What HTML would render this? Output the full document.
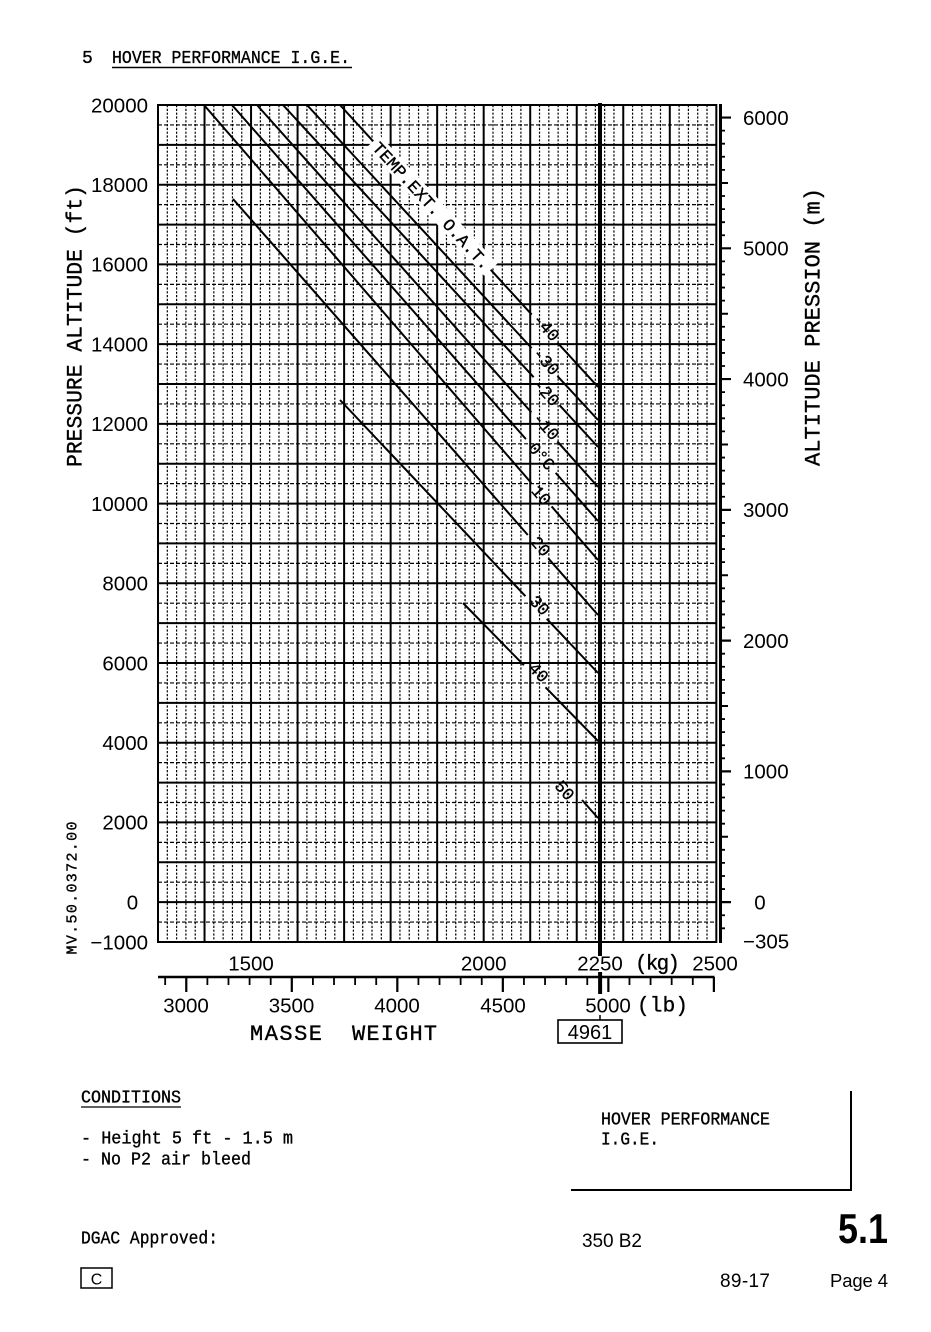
<!DOCTYPE html>
<html><head><meta charset="utf-8"><style>
html,body{margin:0;padding:0;background:#fff;}
svg{display:block;}
.m{font-family:"Liberation Mono",monospace;stroke:#000;stroke-width:0.35;}
.s{font-family:"Liberation Sans",sans-serif;}
</style></head><body>
<svg width="931" height="1332" viewBox="0 0 931 1332" xmlns="http://www.w3.org/2000/svg">
<rect width="931" height="1332" fill="#fff"/>

<!-- title -->
<text class="m" x="82" y="63" font-size="18" fill="#000">5</text>
<text class="m" x="112" y="63" font-size="18.5" fill="#000" textLength="238" lengthAdjust="spacingAndGlyphs">HOVER PERFORMANCE I.G.E.</text>
<line x1="112" y1="67.5" x2="352" y2="67.5" stroke="#000" stroke-width="1.6"/>

<!-- dotted vertical grid (20 kg) -->
<path fill="none" stroke="#000" stroke-width="1.2" stroke-dasharray="2.2 1.6" d="M167.31 105V942M176.61 105V942M185.92 105V942M195.22 105V942M213.83 105V942M223.14 105V942M232.44 105V942M241.75 105V942M260.36 105V942M269.66 105V942M278.97 105V942M288.27 105V942M306.88 105V942M316.19 105V942M325.5 105V942M334.8 105V942M353.41 105V942M362.72 105V942M372.02 105V942M381.33 105V942M399.94 105V942M409.24 105V942M418.55 105V942M427.85 105V942M446.46 105V942M455.77 105V942M465.07 105V942M474.38 105V942M492.99 105V942M502.3 105V942M511.6 105V942M520.91 105V942M539.52 105V942M548.82 105V942M558.13 105V942M567.43 105V942M586.04 105V942M595.35 105V942M604.65 105V942M613.96 105V942M632.57 105V942M641.88 105V942M651.18 105V942M660.49 105V942M679.1 105V942M688.4 105V942M697.71 105V942M707.01 105V942"/>

<!-- dashed horizontal grid (500 ft) -->
<path fill="none" stroke="#000" stroke-width="1.2" stroke-dasharray="4 2" d="M158 124.93H716M158 164.79H716M158 204.64H716M158 244.5H716M158 284.36H716M158 324.21H716M158 364.07H716M158 403.93H716M158 443.79H716M158 483.64H716M158 523.5H716M158 563.36H716M158 603.21H716M158 643.07H716M158 682.93H716M158 722.79H716M158 762.64H716M158 802.5H716M158 842.36H716M158 882.21H716M158 922.07H716"/>

<!-- thick horizontal grid (1000 ft) -->
<path fill="none" stroke="#000" stroke-width="2" d="M157 105H717M157 144.86H717M157 184.71H717M157 224.57H717M157 264.43H717M157 304.29H717M157 344.14H717M157 384H717M157 423.86H717M157 463.71H717M157 503.57H717M157 543.43H717M157 583.29H717M157 623.14H717M157 663H717M157 702.86H717M157 742.71H717M157 782.57H717M157 822.43H717M157 862.29H717M157 902.14H717M157 942H717"/>

<!-- thick vertical grid (100 kg) -->
<path fill="none" stroke="#000" stroke-width="2" d="M158 104V943M204.53 104V943M251.05 104V943M297.58 104V943M344.11 104V943M390.63 104V943M437.16 104V943M483.68 104V943M530.21 104V943M576.74 104V943M623.26 104V943M669.79 104V943M716.32 104V943"/>

<!-- right axis (m) -->
<line x1="720.5" y1="104" x2="720.5" y2="943" stroke="#000" stroke-width="3"/>
<path fill="none" stroke="#000" stroke-width="1.8" d="M720 928.29H725M720 915.22H725M720 889.06H725M720 875.99H725M720 862.91H725M720 849.83H725M720 823.68H725M720 810.61H725M720 797.53H725M720 784.45H725M720 758.3H725M720 745.22H725M720 732.15H725M720 719.07H725M720 692.92H725M720 679.84H725M720 666.76H725M720 653.69H725M720 627.54H725M720 614.46H725M720 601.38H725M720 588.31H725M720 562.15H725M720 549.08H725M720 536H725M720 522.92H725M720 496.77H725M720 483.69H725M720 470.62H725M720 457.54H725M720 431.39H725M720 418.31H725M720 405.24H725M720 392.16H725M720 366.01H725M720 352.93H725M720 339.85H725M720 326.78H725M720 300.62H725M720 287.55H725M720 274.47H725M720 261.4H725M720 235.24H725M720 222.17H725M720 209.09H725M720 196.01H725M720 169.86H725M720 156.78H725M720 143.71H725M720 130.63H725"/>
<path fill="none" stroke="#000" stroke-width="2" d="M720 836.76H728M720 705.99H728M720 575.23H728M720 444.47H728M720 313.7H728M720 182.94H728"/>
<path fill="none" stroke="#000" stroke-width="2.2" d="M720 902.14H731M720 771.38H731M720 640.61H731M720 509.85H731M720 379.08H731M720 248.32H731M720 117.56H731"/>

<!-- temperature lines -->
<g fill="none" stroke="#000" stroke-width="2">
<line x1="340" y1="105" x2="598" y2="387" stroke-dasharray="50 172 62 38 300"/>
<line x1="307" y1="105" x2="598" y2="420" stroke-dasharray="331 38 300"/>
<line x1="283" y1="105" x2="598" y2="447" stroke-dasharray="370 38 300"/>
<line x1="257" y1="105" x2="598" y2="487" stroke-dasharray="412 39 300"/>
<line x1="232" y1="105" x2="598" y2="521" stroke-dasharray="445 45 300"/>
<line x1="204" y1="105" x2="598" y2="560" stroke-dasharray="500 31 300"/>
<line x1="233" y1="199" x2="598" y2="615" stroke-dasharray="447 31 300"/>
<line x1="340" y1="400" x2="598" y2="673" stroke-dasharray="270 31 300"/>
<line x1="463" y1="603" x2="598" y2="741" stroke-dasharray="87 31 300"/>
<line x1="582" y1="800" x2="598" y2="818"/>
</g>

<!-- temperature labels -->
<g transform="translate(432,205.5) rotate(47.5)">
<rect x="-87" y="-9" width="174" height="18" fill="#fff"/>
<text class="m" x="0" y="6" font-size="17" text-anchor="middle" fill="#000" textLength="166" lengthAdjust="spacingAndGlyphs">TEMP.EXT. O.A.T.</text>
</g>
<g class="m" font-size="17" fill="#000" text-anchor="middle">
<text transform="translate(546.5,327) rotate(47.5)" y="6">-40</text>
<text transform="translate(546.5,361) rotate(47.3)" y="6">-30</text>
<text transform="translate(546.5,392) rotate(47.4)" y="6">-20</text>
<text transform="translate(546.5,426) rotate(48.2)" y="6">-10</text>
<text transform="translate(542,456) rotate(48.7)" y="6">0°C</text>
<text transform="translate(541.7,495) rotate(49.1)" y="6">10</text>
<text transform="translate(541,546) rotate(48.7)" y="6">20</text>
<text transform="translate(540,605) rotate(46.6)" y="6">30</text>
<text transform="translate(539,672) rotate(45.6)" y="6">40</text>
<text transform="translate(565,790) rotate(48)" y="6">50</text>
</g>

<!-- bold 2250 line -->
<line x1="600" y1="103" x2="600" y2="956" stroke="#000" stroke-width="4"/>

<!-- left axis labels -->
<g class="s" font-size="20.5" fill="#000" text-anchor="end">
<text x="148" y="112.3">20000</text>
<text x="148" y="192">18000</text>
<text x="148" y="271.7">16000</text>
<text x="148" y="351.4">14000</text>
<text x="148" y="431.2">12000</text>
<text x="148" y="510.9">10000</text>
<text x="148" y="590.6">8000</text>
<text x="148" y="670.3">6000</text>
<text x="148" y="750">4000</text>
<text x="148" y="829.7">2000</text>
<text x="148" y="949.3">−1000</text>
</g>
<text class="s" x="132.5" y="909.4" font-size="20.5" text-anchor="middle" fill="#000">0</text>

<!-- right axis labels -->
<g class="s" font-size="20.5" fill="#000">
<text x="743" y="124.9">6000</text>
<text x="743" y="255.6">5000</text>
<text x="743" y="386.4">4000</text>
<text x="743" y="517.1">3000</text>
<text x="743" y="647.9">2000</text>
<text x="743" y="778.7">1000</text>
<text x="760" y="909.4" text-anchor="middle">0</text>
<text x="743" y="948.7">−305</text>
</g>

<!-- axis titles -->
<text class="m" transform="translate(74,326) rotate(-90)" y="7.5" font-size="22.5" text-anchor="middle" fill="#000" textLength="282" lengthAdjust="spacingAndGlyphs">PRESSURE ALTITUDE (ft)</text>
<text class="m" transform="translate(812,327) rotate(-90)" y="7.5" font-size="22.5" text-anchor="middle" fill="#000" textLength="278" lengthAdjust="spacingAndGlyphs">ALTITUDE PRESSION (m)</text>
<text class="m" transform="translate(71.5,888) rotate(-90)" y="5" font-size="15" text-anchor="middle" fill="#000" textLength="133" lengthAdjust="spacing">MV.50.0372.00</text>

<!-- kg labels -->
<g class="s" font-size="20.5" fill="#000" text-anchor="middle">
<text x="251" y="970.3">1500</text>
<text x="483.7" y="970.3">2000</text>
<text x="600" y="970.3">2250</text>
<text x="715" y="970.3">2500</text>
</g>
<text class="m" x="657.5" y="969.5" font-size="21" text-anchor="middle" fill="#000" textLength="45" lengthAdjust="spacing">(kg)</text>

<!-- lb axis -->
<line x1="158" y1="977" x2="714.5" y2="977" stroke="#000" stroke-width="2.5"/>
<path fill="none" stroke="#000" stroke-width="1.8" d="M165.17 977V985M207.38 977V985M228.48 977V985M249.59 977V985M270.69 977V985M312.9 977V985M334.01 977V985M355.11 977V985M376.21 977V985M418.42 977V985M439.53 977V985M460.63 977V985M481.74 977V985M523.94 977V985M545.05 977V985M566.15 977V985M587.26 977V985M629.47 977V985M650.57 977V985M671.67 977V985M692.78 977V985"/>
<path fill="none" stroke="#000" stroke-width="2.2" d="M186.28 977V992M291.8 977V992M397.32 977V992M502.84 977V992M608.36 977V992M713.88 977V992"/>
<line x1="600.1" y1="972" x2="600.1" y2="994" stroke="#000" stroke-width="4"/>

<g class="s" font-size="20.5" fill="#000" text-anchor="middle">
<text x="186" y="1012.3">3000</text>
<text x="291.5" y="1012.3">3500</text>
<text x="397" y="1012.3">4000</text>
<text x="503" y="1012.3">4500</text>
<text x="608" y="1012.3">5000</text>
</g>
<text class="m" x="662.5" y="1011.5" font-size="21" text-anchor="middle" fill="#000" textLength="51" lengthAdjust="spacing">(lb)</text>

<text class="m" x="250" y="1040" font-size="22" fill="#000" textLength="72" lengthAdjust="spacing">MASSE</text>
<text class="m" x="352" y="1040" font-size="22" fill="#000" textLength="85" lengthAdjust="spacing">WEIGHT</text>

<!-- 4961 box -->
<line x1="600" y1="1015" x2="600" y2="1020" stroke="#000" stroke-width="1.5"/>
<rect x="558" y="1020" width="64" height="23" fill="none" stroke="#000" stroke-width="1.6"/>
<text class="s" x="590" y="1039" font-size="20" text-anchor="middle" fill="#000">4961</text>

<!-- conditions -->
<text class="m" x="81" y="1102.5" font-size="18" fill="#000" textLength="100" lengthAdjust="spacingAndGlyphs">CONDITIONS</text>
<line x1="81" y1="1107" x2="181" y2="1107" stroke="#000" stroke-width="1.3"/>
<text class="m" x="81" y="1143.5" font-size="18" fill="#000" textLength="212" lengthAdjust="spacingAndGlyphs">- Height 5 ft - 1.5 m</text>
<text class="m" x="81" y="1164.5" font-size="18" fill="#000" textLength="170" lengthAdjust="spacingAndGlyphs">- No P2 air bleed</text>

<!-- right box -->
<text class="m" x="601" y="1124.5" font-size="18" fill="#000" textLength="169" lengthAdjust="spacingAndGlyphs">HOVER PERFORMANCE</text>
<text class="m" x="601" y="1144.5" font-size="18" fill="#000" textLength="58" lengthAdjust="spacingAndGlyphs">I.G.E.</text>
<line x1="851" y1="1091" x2="851" y2="1190" stroke="#000" stroke-width="2"/>
<line x1="571" y1="1190" x2="852" y2="1190" stroke="#000" stroke-width="2"/>

<!-- footer -->
<text class="m" x="81" y="1243.5" font-size="18" fill="#000" textLength="137" lengthAdjust="spacingAndGlyphs">DGAC Approved:</text>
<text class="s" x="582" y="1247" font-size="19" fill="#000" textLength="60" lengthAdjust="spacing">350 B2</text>
<text class="s" x="838" y="1243" font-size="42" font-weight="bold" fill="#000" textLength="50" lengthAdjust="spacingAndGlyphs">5.1</text>
<rect x="81" y="1268" width="31" height="20" fill="none" stroke="#000" stroke-width="1.5"/>
<text class="s" x="96.5" y="1284.5" font-size="16" text-anchor="middle" fill="#000">C</text>
<text class="s" x="720" y="1287" font-size="19" fill="#000" textLength="50" lengthAdjust="spacing">89-17</text>
<text class="s" x="830" y="1287" font-size="18.5" fill="#000" textLength="58" lengthAdjust="spacing">Page 4</text>
</svg>
</body></html>
